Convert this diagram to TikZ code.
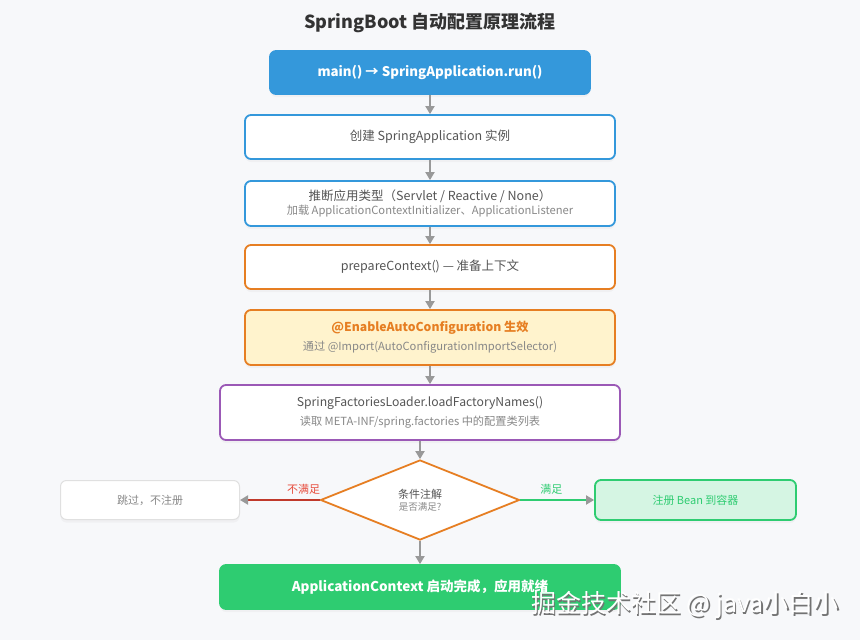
\documentclass[tikz,border=0pt]{standalone}
\usepackage{fontspec}
\setmainfont{Noto Sans CJK SC}
\usetikzlibrary{arrows.meta,shapes.geometric,shadows}
\definecolor{bgc}{HTML}{F7F8FA}
\definecolor{blueC}{HTML}{3498DB}
\definecolor{orangeC}{HTML}{E67E22}
\definecolor{yellowF}{HTML}{FFF3CD}
\definecolor{purpleC}{HTML}{9B59B6}
\definecolor{greenC}{HTML}{2ECC71}
\definecolor{greenF}{HTML}{D5F5E3}
\definecolor{redL}{HTML}{C0392B}
\definecolor{redT}{HTML}{E74C3C}
\definecolor{arrowG}{HTML}{999999}
\definecolor{textD}{HTML}{555555}
\definecolor{textS}{HTML}{888888}
\definecolor{titleC}{HTML}{333333}
\definecolor{lightB}{HTML}{E0E0E0}
\tikzset{
  box/.style={draw, rounded corners=6pt, line width=1.8pt, fill=white, inner sep=0pt,
    align=center, text=textD, font=\fontsize{12.5}{15}\selectfont,
    drop shadow={opacity=0.06, shadow xshift=0pt, shadow yshift=-3pt}},
  flow/.style={draw=arrowG, line width=1.8pt, -{Triangle[length=8pt,width=9pt,color=arrowG]}},
}
\newcommand{\subtxt}[1]{{\fontsize{11.2}{13}\selectfont\color{textS}#1}}
\begin{document}
\begin{tikzpicture}[x=1pt,y=-1pt]
\fill[bgc] (0,0) rectangle (860,640);
\useasboundingbox (0,0) rectangle (860,640);

\node[font=\fontsize{18}{22}\selectfont\bfseries, text=titleC] (title) at (430,23) {SpringBoot 自动配置原理流程};

\node[box, draw=blueC, fill=blueC, text=white, font=\fontsize{13.3}{16}\selectfont\bfseries,
  minimum width=320pt, minimum height=43pt] (run) at (430,72.5) {main() → SpringApplication.run()};

\node[box, draw=blueC, minimum width=370pt, minimum height=44pt] (create) at (430,137)
  {创建 SpringApplication 实例};

\node[box, draw=blueC, minimum width=370pt, minimum height=45pt] (infer) at (430,203.5)
  {推断应用类型（Servlet / Reactive / None）\\[-1.5pt]
   \subtxt{加载 ApplicationContextInitializer、ApplicationListener}};

\node[box, draw=orangeC, minimum width=370pt, minimum height=44pt] (prep) at (430,267)
  {prepareContext() — 准备上下文};

\node[box, draw=orangeC, fill=yellowF, minimum width=370pt, minimum height=55pt] (enable) at (430,337.5)
  {{\fontsize{12.2}{15}\selectfont\bfseries\color{orangeC}@EnableAutoConfiguration 生效}\\[4pt]
   \subtxt{通过 @Import(AutoConfigurationImportSelector)}};

\node[box, draw=purpleC, minimum width=400pt, minimum height=55pt] (sfl) at (420,412.5)
  {{\fontsize{12.2}{15}\selectfont SpringFactoriesLoader.loadFactoryNames()}\\[4pt]
   \subtxt{读取 META-INF/spring.factories 中的配置类列表}};

\node[draw=orangeC, fill=white, line width=1.8pt, shape=diamond, shape aspect=2.5,
  minimum width=199pt, minimum height=80pt, inner sep=0pt, align=center,
  text=textD, font=\fontsize{11}{13}\selectfont] (cond) at (420,500)
  {条件注解\\[-1pt]{\fontsize{9.5}{12}\selectfont\color{textS}是否满足?}};

\node[box, draw=lightB, line width=1pt, text=textS, font=\fontsize{11}{13}\selectfont,
  minimum width=179pt, minimum height=39pt] (skip) at (150,500) {跳过，不注册};

\node[box, draw=greenC, fill=greenF, text=greenC, font=\fontsize{11}{13}\selectfont,
  minimum width=201pt, minimum height=40pt] (reg) at (695.5,500) {注册 Bean 到容器};

\node[box, draw=greenC, fill=greenC, text=white, font=\fontsize{13.5}{16}\selectfont\bfseries,
  minimum width=400pt, minimum height=44pt] (done) at (420,587)
  {ApplicationContext 启动完成，应用就绪};

\draw[flow] (run.south) -- (create.north);
\draw[flow] (create.south) -- (infer.north);
\draw[flow] (infer.south) -- (prep.north);
\draw[flow] (prep.south) -- (enable.north);
\draw[flow] (enable.south) -- (enable.south |- sfl.north);
\draw[flow] (sfl.south) -- (cond.north);
\draw[flow] (cond.south) -- (done.north);
\draw[flow, draw=redL] (cond.west) -- (skip.east)
  node[pos=0.2, above=1pt, text=redT, font=\fontsize{11}{13}\selectfont] {不满足};
\draw[flow, draw=greenC] (cond.east) -- (reg.west)
  node[pos=0.42, above=1pt, text=greenC, font=\fontsize{11}{13}\selectfont] {满足};

\node[text=black!55, font=\fontsize{25}{28}\selectfont] (wmS) at (686.5,606.5) {掘金技术社区 @ java小白小};
\node[text=white, font=\fontsize{25}{28}\selectfont] (wm) at (685,605) {掘金技术社区 @ java小白小};
\end{tikzpicture}
\end{document}
